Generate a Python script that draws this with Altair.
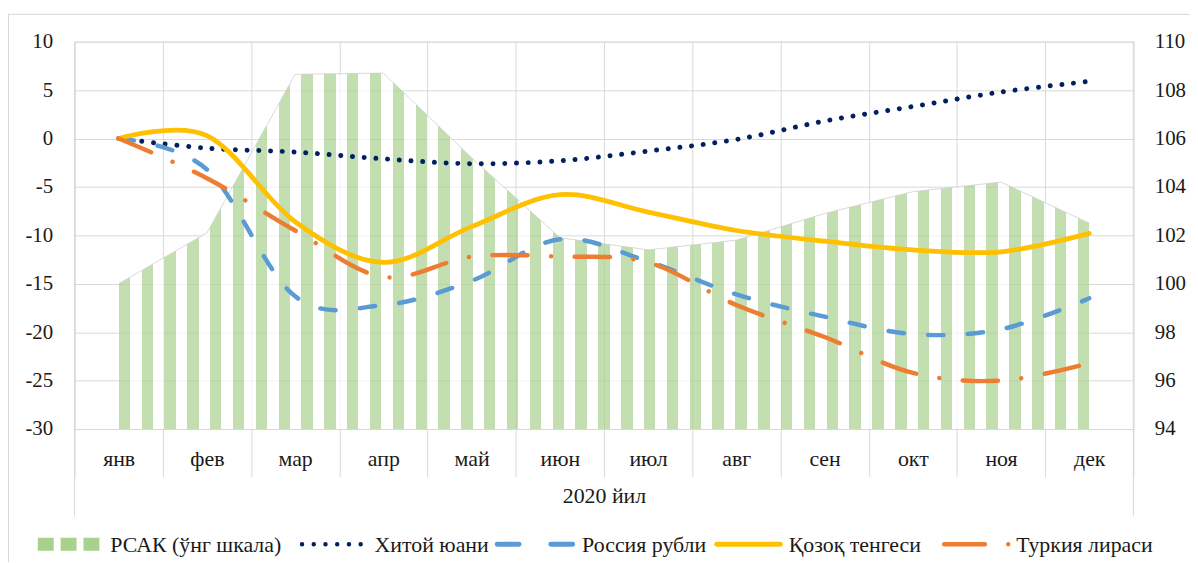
import altair as alt
import pandas as pd

# ---------------- data ----------------
months = ["янв", "фев", "мар", "апр", "май", "июн", "июл", "авг", "сен", "окт", "ноя", "дек"]
rsak = [100.0, 102.1, 108.65, 108.7, 105.2, 101.9, 101.4, 101.8, 102.9, 103.8, 104.2, 102.5]
china = [0.0, -1.0, -1.4, -2.1, -2.6, -2.3, -1.3, -0.1, 1.8, 3.3, 4.8, 5.9]
russia = [0.0, -3.2, -16.3, -17.2, -14.7, -10.4, -12.7, -16.1, -18.4, -20.2, -19.7, -16.5]
kzt = [0.0, 0.3, -8.6, -12.8, -9.1, -5.8, -7.6, -9.5, -10.6, -11.5, -11.7, -9.8]
turkey = [0.0, -4.1, -9.5, -14.3, -12.2, -12.2, -12.8, -17.2, -20.5, -24.2, -25.0, -23.2]

series_names = ["РСАК (ўнг шкала)", "Хитой юани", "Россия рубли", "Қозоқ тенгеси", "Туркия лираси"]
left_ticks = [-30, -25, -20, -15, -10, -5, 0, 5, 10]
right_ticks = [94, 96, 98, 100, 102, 104, 106, 108, 110]
x_title = "2020 йил"

# ---------------- styling ----------------
W, H = 1066, 390
FONT = "Liberation Serif"
TXT = "#1a1a1a"
GRID = "#d9d9d9"
GREEN = "#a9d18e"
NAVY = "#002060"
BLUE = "#5b9bd5"
YELLOW = "#ffc000"
ORANGE = "#ed7d31"
AXIS_FS = 21
CAT_FS = 22
LEG_FS = 22

df = pd.DataFrame({
    "i": list(range(len(months))),
    "month": months,
    "rsak": rsak,
    "china": china,
    "russia": russia,
    "kzt": kzt,
    "turkey": turkey,
})

n = len(months)
bounds = [k - 0.5 for k in range(n + 1)]
month_arr = "[" + ",".join("'" + m + "'" for m in months) + "]"

x_axis = alt.Axis(
    values=bounds,
    labelExpr=f"datum.value < {n - 1} ? {month_arr}[datum.value + 0.5] : ''",
    labelOffset=W / (2 * n),
    labelBaseline="middle",
    labelAlign="center",
    labelPadding=-18,
    labelFlush=False,
    labelOverlap=False,
    labelBound=False,
    labelFont=FONT,
    labelFontSize=CAT_FS,
    labelColor=TXT,
    grid=True,
    gridColor=GRID,
    gridWidth=1,
    ticks=True,
    tickSize=48,
    tickColor=GRID,
    tickWidth=1,
    domain=True,
    domainColor=GRID,
    title=x_title,
    titleFont=FONT,
    titleFontSize=CAT_FS,
    titleFontWeight="normal",
    titleColor=TXT,
    titleY=74,
    titleBaseline="alphabetic",
)
x_enc = alt.X("i:Q", scale=alt.Scale(domain=[-0.5, n - 0.5], nice=False, zero=False), axis=x_axis)

# vertical stripe pattern for the area (gradient with hard stops)
span = W * (n - 1) / n
n_str = 43
sw = 11.5
period = (span - sw) / (n_str - 1)
stops = []
for k in range(n_str):
    a = min(1.0, k * period / span)
    b = min(1.0, (k * period + sw) / span)
    stops += [
        alt.GradientStop(color="#ffffff", offset=a),
        alt.GradientStop(color=GREEN, offset=a),
        alt.GradientStop(color=GREEN, offset=b),
        alt.GradientStop(color="#ffffff", offset=b),
    ]
stripe = alt.LinearGradient(gradient="linear", stops=stops, x1=0, x2=1, y1=0, y2=0)

area = alt.Chart(df).mark_area(
    color=stripe, interpolate="linear",
    line={"color": "#cfcfcf", "strokeWidth": 0.8},
).encode(
    x=x_enc,
    y=alt.Y("rsak:Q",
            scale=alt.Scale(domain=[right_ticks[0], right_ticks[-1]], nice=False, zero=False),
            axis=alt.Axis(orient="right", values=right_ticks, grid=False, domain=False, ticks=False,
                          labelExpr="'' + datum.value",
                          labelPadding=21, labelFont=FONT, labelFontSize=AXIS_FS, labelColor=TXT),
            title=None),
    y2=alt.datum(right_ticks[0]),
)

yL_scale = alt.Scale(domain=[left_ticks[0], left_ticks[-1]], nice=False, zero=False)
yL_axis = alt.Axis(orient="left", values=left_ticks, grid=True, gridColor=GRID, gridWidth=1,
                   domain=False, ticks=False, labelPadding=22, labelFont=FONT,
                   labelExpr="'' + datum.value",
                   labelFontSize=AXIS_FS, labelColor=TXT)


def line(field, color, dash=None, width=4.5):
    kw = dict(color=color, strokeWidth=width, strokeCap="round", interpolate="cardinal")
    if dash is not None:
        kw["strokeDash"] = dash
    return alt.Chart(df).mark_line(**kw).encode(
        x=x_enc, y=alt.Y(f"{field}:Q", scale=yL_scale, axis=yL_axis, title=None)
    )


lines = alt.layer(
    line("china", NAVY, [0.01, 11.8], 5),
    line("russia", BLUE, [15.5, 24.5]),
    line("kzt", YELLOW, None, 4.8),
    line("turkey", ORANGE, [35.5, 23.7, 0.01, 23.7]),
)

one = alt.Data(values=[{"k": 0}])


def hrule(x1, x2, y, color, width, dash=None, cap="butt"):
    kw = dict(color=color, strokeWidth=width, strokeCap=cap)
    if dash is not None:
        kw["strokeDash"] = dash
    return alt.Chart(one).mark_rule(**kw).encode(
        x=alt.value(x1), x2=alt.value(x2), y=alt.value(y))


def vrule(x, y1, y2, color, width=1):
    return alt.Chart(one).mark_rule(color=color, strokeWidth=width).encode(
        x=alt.value(x), y=alt.value(y1), y2=alt.value(y2))


# frame: chart border and the outer category separators
frame = [
    hrule(-67, W + 60, -27.5, GRID, 1),
    vrule(-66.5, -28, H + 200, GRID),
    vrule(0, 0, H + 88, GRID),
    vrule(W, 0, H + 88, GRID),
]

# legend (plot-relative positions)
LY = 506
TY = 513.5
OX = 75
legend_parts = [
    hrule(38 - OX, 100 - OX, LY, GREEN, 13, [16, 7], "butt"),
    hrule(304 - OX, 363.1 - OX, LY, NAVY, 4.5, [0.01, 11.8], "round"),
    hrule(500.5 - OX, 576.5 - OX, LY, BLUE, 5, [22, 32], "round"),
    hrule(721.5 - OX, 785.5 - OX, LY, YELLOW, 5, None, "round"),
    hrule(950.5 - OX, 1015.01 - OX, LY, ORANGE, 4.5, [41, 23.5, 0.01, 100], "round"),
]
label_x = [111, 377, 586, 794, 1023]
for name, lx in zip(series_names, label_x):
    legend_parts.append(
        alt.Chart(one).mark_text(align="left", baseline="alphabetic", font=FONT, fontSize=LEG_FS,
                                 color=TXT).encode(
            x=alt.value(lx - OX), y=alt.value(TY), text=alt.value(name))
    )

chart = alt.layer(
    *frame, area, lines, *legend_parts
).resolve_scale(
    y="independent"
).properties(
    width=W, height=H,
    padding={"left": 67, "top": 32, "right": 57, "bottom": 132},
    autosize=alt.AutoSizeParams(type="none"),
).configure_view(
    stroke=GRID, strokeWidth=1
).configure(
    background="#ffffff", font=FONT
)

chart.save("out.html", embed_options={"renderer": "svg", "actions": False})
